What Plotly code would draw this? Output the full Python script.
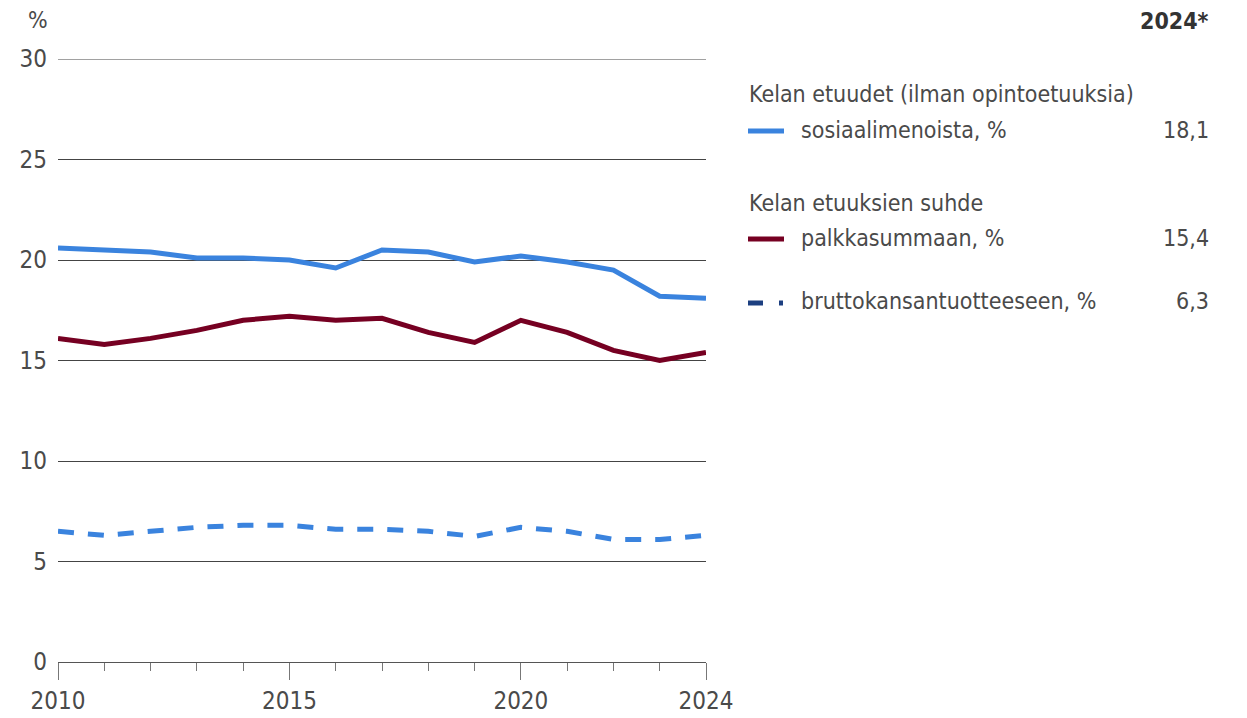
import plotly.graph_objects as go

years = list(range(2010, 2025))
sosiaalimenoista = [20.6, 20.5, 20.4, 20.1, 20.1, 20.0, 19.6, 20.5, 20.4, 19.9, 20.2, 19.9, 19.5, 18.2, 18.1]
palkkasummaan = [16.1, 15.8, 16.1, 16.5, 17.0, 17.2, 17.0, 17.1, 16.4, 15.9, 17.0, 16.4, 15.5, 15.0, 15.4]
bkt = [6.5, 6.3, 6.5, 6.7, 6.8, 6.8, 6.6, 6.6, 6.5, 6.25, 6.7, 6.5, 6.1, 6.1, 6.3]

y_ticks = [0, 5, 10, 15, 20, 25, 30]
x_ticks = [2010, 2015, 2020, 2024]

legend_values = ["18,1", "15,4", "6,3"]

BLUE = "#3a83de"
RED = "#760022"
NAVY = "#1c3f80"
TXT = "#4a4a4a"
FONT = "DejaVu Sans Condensed, Liberation Sans Narrow, Roboto, sans-serif"

fig = go.Figure()
fig.add_trace(go.Scatter(x=years, y=bkt, mode="lines",
                         line=dict(color=BLUE, width=5, dash="16px,14px"), showlegend=False))
fig.add_trace(go.Scatter(x=years, y=palkkasummaan, mode="lines",
                         line=dict(color=RED, width=5), showlegend=False))
fig.add_trace(go.Scatter(x=years, y=sosiaalimenoista, mode="lines",
                         line=dict(color=BLUE, width=5), showlegend=False))

OFF = 8  # page body margin
W, H = 1247 - OFF, 718 - OFF
# plot area in page pixels: x 58..706, y 59..662
L = 58 - OFF
T = 59 - OFF
R = W - (706 - OFF)
B = H - (662 - OFF)
pw = W - L - R
ph = H - T - B

def px(x):
    return (x - OFF - L) / pw

def py(y):
    return 1 - (y - OFF - T) / ph

fig.update_layout(
    width=W, height=H,
    margin=dict(l=L, r=R, t=T, b=B, autoexpand=False),
    plot_bgcolor="white", paper_bgcolor="white",
    font=dict(family=FONT, color=TXT, size=23),
    xaxis=dict(range=[2010, 2024], tickvals=x_ticks, ticktext=[str(v) for v in x_ticks],
               ticks="outside", ticklen=17, tickcolor="#777", tickwidth=1,
               showgrid=False, zeroline=False, showline=True, linecolor="#555", linewidth=1,
               tickfont=dict(size=24, color=TXT, family=FONT),
               minor=dict(ticks="outside", ticklen=8, dtick=1, tick0=2010, tickcolor="#777", tickwidth=1, showgrid=False)),
    yaxis=dict(range=[0, 30], tickvals=y_ticks, showgrid=True, gridcolor="#444", gridwidth=1,
               zeroline=False, showline=False, ticks="", ticklabelstandoff=10,
               tickfont=dict(size=24, color=TXT, family=FONT)),
)

# top gridline at 30 (plotly omits the gridline on the range edge)
fig.add_shape(type="line", xref="paper", yref="y", x0=0, x1=1, y0=y_ticks[-1], y1=y_ticks[-1],
              line=dict(color="#444", width=1), layer="below")

fig.add_annotation(text="%", xref="paper", yref="paper", x=px(38), y=py(20), showarrow=False,
                   font=dict(size=23, color=TXT), xanchor="center", yanchor="middle")
fig.add_annotation(text="<b>2024*</b>", xref="paper", yref="paper", x=px(1211), y=py(21), showarrow=False,
                   font=dict(size=23, color="#333"), xanchor="right", yanchor="middle")

texts = [
    ("Kelan etuudet (ilman opintoetuuksia)", 747, 94),
    ("sosiaalimenoista, %", 799, 130),
    ("Kelan etuuksien suhde", 747, 203),
    ("palkkasummaan, %", 799, 238),
    ("bruttokansantuotteeseen, %", 799, 301),
]
for t, x, y in texts:
    fig.add_annotation(text=t, xref="paper", yref="paper", x=px(x), y=py(y), showarrow=False,
                       font=dict(size=23, color=TXT), xanchor="left", yanchor="middle")

for v, y in zip(legend_values, [130, 238, 301]):
    fig.add_annotation(text=v, xref="paper", yref="paper", x=px(1211), y=py(y), showarrow=False,
                       font=dict(size=23, color=TXT), xanchor="right", yanchor="middle")

# legend swatches
fig.add_shape(type="line", xref="paper", yref="paper", x0=px(748), x1=px(784), y0=py(131), y1=py(131),
              line=dict(color=BLUE, width=5))
fig.add_shape(type="line", xref="paper", yref="paper", x0=px(748), x1=px(784), y0=py(239), y1=py(239),
              line=dict(color=RED, width=5))
fig.add_shape(type="line", xref="paper", yref="paper", x0=px(748), x1=px(763), y0=py(303), y1=py(303),
              line=dict(color=NAVY, width=5))
fig.add_shape(type="line", xref="paper", yref="paper", x0=px(779), x1=px(783), y0=py(303), y1=py(303),
              line=dict(color=NAVY, width=5))

fig.write_html("out.html")
